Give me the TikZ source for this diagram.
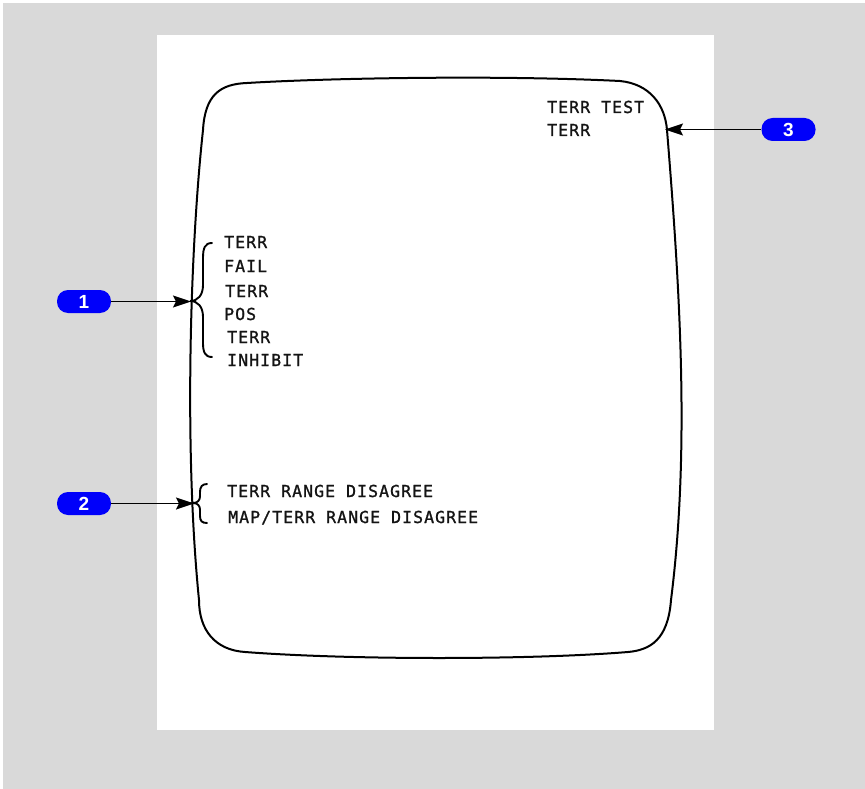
\documentclass[tikz,border=0pt]{standalone}
\usepackage{fontspec}
\usetikzlibrary{arrows.meta}
\newfontfamily\scrfont[LetterSpace=6.5,FakeBold=1.2]{DejaVu Sans Mono}
\newfontfamily\pillfont{Liberation Sans}
\definecolor{bggray}{RGB}{217,217,217}
\definecolor{pillblue}{RGB}{0,0,250}
\tikzset{
  scrtext/.style={anchor=base west, inner sep=0pt, font=\scrfont\fontsize{16.5}{18}\selectfont, text=black!92},
  pill/.style={draw=none, fill=pillblue, rounded corners=11pt, minimum width=54pt, minimum height=23pt, inner sep=0pt, text=white, font=\pillfont\bfseries\fontsize{19}{20}\selectfont},
  callout/.style={line width=1.8pt, -{Stealth[length=18pt,width=12pt,inset=3pt]}},
  outline/.style={line width=2pt},
  bracepath/.style={line width=1.9pt, line cap=round}
}
\begin{document}
\begin{tikzpicture}[x=1pt,y=-1pt]
\useasboundingbox (0,0) rectangle (865,789);
\fill[white] (0,0) rectangle (865,789);
\fill[bggray] (3,3) rectangle (865,789);
\fill[white] (157,35) rectangle (714,730);
% screen outline
\draw[outline] (247,83) .. controls (330,78) and (500,75) .. (620,81)
  .. controls (650,84) and (665,105) .. (667,130)
  .. controls (680,290) and (690,450) .. (671,600)
  .. controls (668,640) and (650,650) .. (628,652)
  .. controls (530,660) and (350,660) .. (245,652)
  .. controls (215,650) and (199,630) .. (199,600)
  .. controls (184,450) and (190,250) .. (203,130)
  .. controls (205,95) and (220,84) .. (247,83) -- cycle;
% texts
\node[scrtext] (tt) at (547,113) {TERR TEST};
\node[scrtext] (tt2) at (547,136) {TERR};
\node[scrtext] (a1) at (224,248) {TERR};
\node[scrtext] (a2) at (224,272) {FAIL};
\node[scrtext] (a3) at (225,297) {TERR};
\node[scrtext] (a4) at (224,320) {POS};
\node[scrtext] (a5) at (227,343) {TERR};
\node[scrtext] (a6) at (227,366) {INHIBIT};
\node[scrtext] (b1) at (227,497) {TERR RANGE DISAGREE};
\node[scrtext] (b2) at (228,523) {MAP/TERR RANGE DISAGREE};
% braces
\draw[bracepath] (212,243) .. controls (205,243) and (203,248) .. (203,258) -- (203,285)
  .. controls (203,295) and (198,301) .. (190,301)
  .. controls (198,301) and (203,307) .. (203,317) -- (203,343)
  .. controls (203,352) and (205,357) .. (212,357);
\draw[bracepath] (207,484) .. controls (202,484) and (200,487) .. (200,492) -- (200,496)
  .. controls (200,500) and (198,503) .. (193,503)
  .. controls (198,503) and (200,506) .. (200,510) -- (200,516)
  .. controls (200,521) and (202,523) .. (207,523);
% pills
\node[pill] (p1) at (84,301.5) {1};
\node[pill] (p2) at (84,503.5) {2};
\node[pill] (p3) at (788.5,129.5) {3};
\coordinate (t1) at (191,301.5);
\coordinate (t2) at (194,503.5);
\coordinate (t3) at (665,129.5);
\draw[callout] (p1.east) -- (t1);
\draw[callout] (p2.east) -- (t2);
\draw[callout] (p3.west) -- (t3);
\end{tikzpicture}
\end{document}
